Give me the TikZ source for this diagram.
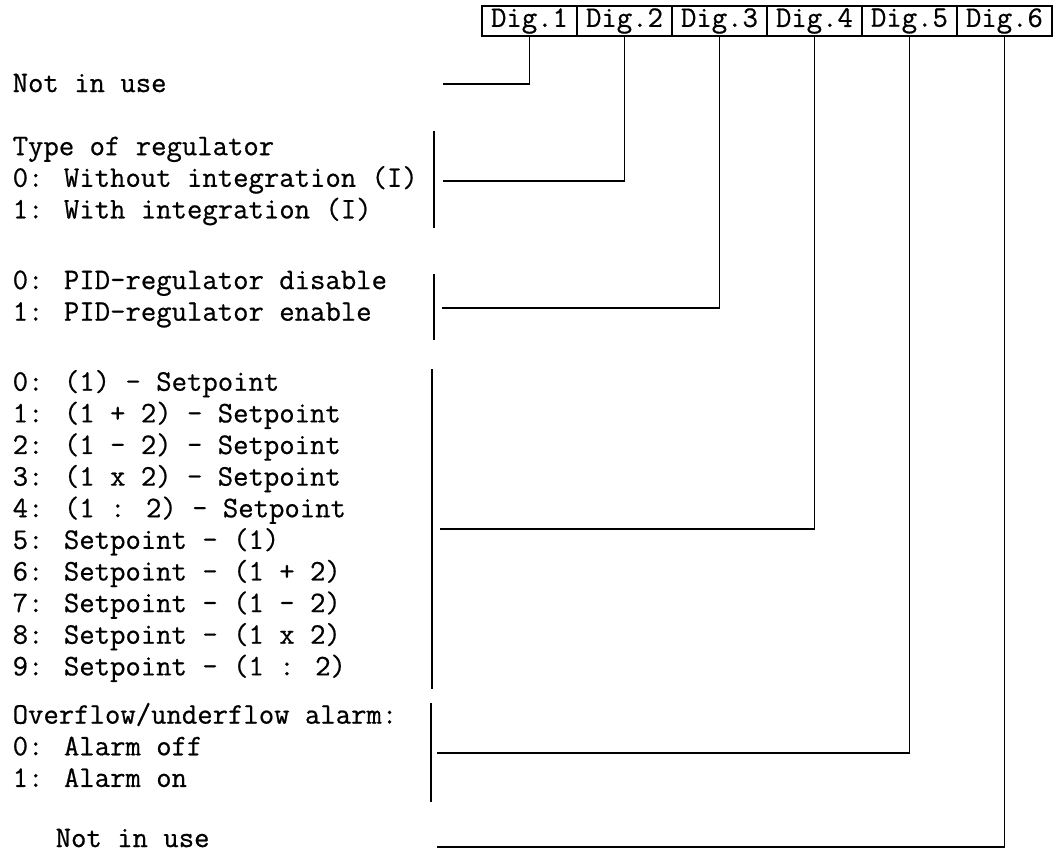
\documentclass[tikz,border=0pt]{standalone}
\usepackage{fontspec}
\newfontfamily\typew{Latin Modern Mono}[FakeBold=0.6]
\usepackage{tikz}
\usetikzlibrary{positioning}

\begin{document}
\begin{tikzpicture}[
  x=0.02cm, y=-0.02cm,
  cell/.style={draw, line width=0.8pt, minimum width=1.9cm, minimum height=0.6cm, inner sep=0pt, outer sep=0pt, font=\typew\fontsize{17}{18}\selectfont},
  txt/.style={anchor=west, align=left, inner sep=0pt, font=\typew\fontsize{17}{18}\selectfont},
  line width=0.8pt
]
\useasboundingbox (0,0) rectangle (1055,856);

% digit header
\node[cell] (d1) at (529.5,21) {Dig.1};
\node[cell, right=0pt of d1] (d2) {Dig.2};
\node[cell, right=0pt of d2] (d3) {Dig.3};
\node[cell, right=0pt of d3] (d4) {Dig.4};
\node[cell, right=0pt of d4] (d5) {Dig.5};
\node[cell, right=0pt of d5] (d6) {Dig.6};

% descriptions
\node[txt] (t1) at (12,83) {Not in use};
\node[txt] (t2) at (12,181) {Type of regulator\\0: Without integration (I)\\1: With integration (I)};
\node[txt] (t3) at (12,299) {0: PID-regulator disable\\1: PID-regulator enable};
\node[txt] (t4) at (12,526) {0: (1) - Setpoint\\1: (1 + 2) - Setpoint\\2: (1 - 2) - Setpoint\\3: (1 x 2) - Setpoint\\4: (1 : 2) - Setpoint\\5: Setpoint - (1)\\6: Setpoint - (1 + 2)\\7: Setpoint - (1 - 2)\\8: Setpoint - (1 x 2)\\9: Setpoint - (1 : 2)};
\node[txt] (t5) at (12,745) {Overflow/underflow alarm:\\0: Alarm off\\1: Alarm on};
\node[txt] (t6) at (55,838) {Not in use};

% brackets
\draw (434,131) -- (434,228);
\draw (434,274) -- (434,340);
\draw (432,369) -- (432,689);
\draw (431,703) -- (431,802);

% connectors
\coordinate (e1) at (443,84);
\coordinate (e2) at (443,181);
\coordinate (e3) at (442,308);
\coordinate (e4) at (440,529);
\coordinate (e5) at (437,753);
\coordinate (e6) at (437,847);
\draw (d1.south) |- (e1);
\draw (d2.south) |- (e2);
\draw (d3.south) |- (e3);
\draw (d4.south) |- (e4);
\draw (d5.south) |- (e5);
\draw (d6.south) |- (e6);
\end{tikzpicture}
\end{document}
